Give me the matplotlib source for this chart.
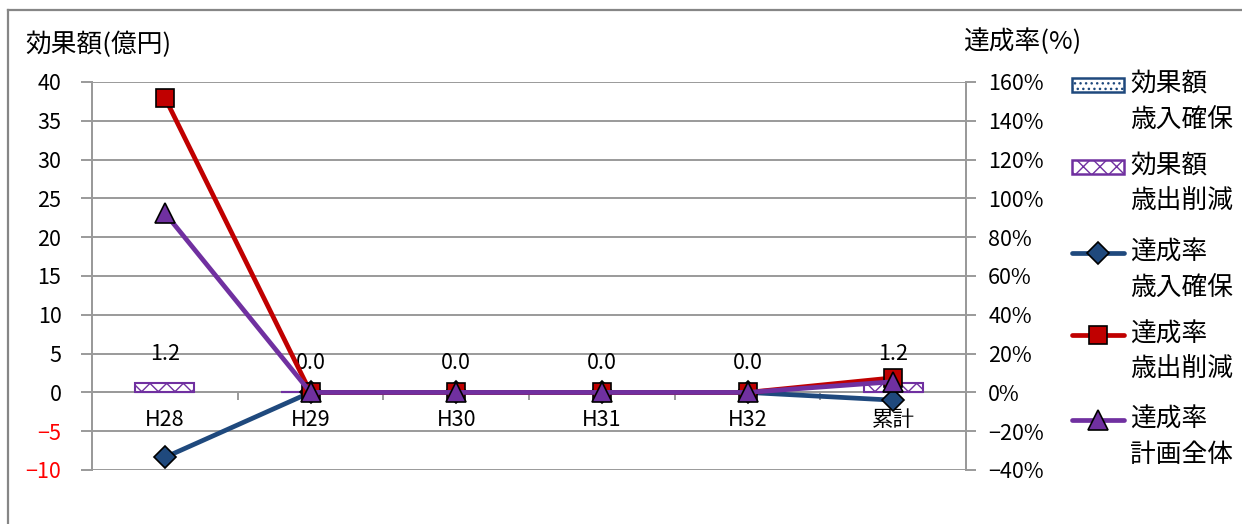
import matplotlib
matplotlib.use("Agg")
import matplotlib.pyplot as plt
from matplotlib.lines import Line2D
from matplotlib.patches import Rectangle
import numpy as np

plt.rcParams['font.family'] = ['Noto Sans CJK JP', 'DejaVu Sans']

categories = ['H28', 'H29', 'H30', 'H31', 'H32', '累計']
amount_revenue = [0.0, 0.0, 0.0, 0.0, 0.0, 0.0]      # 効果額 歳入確保 (億円)
amount_expend = [1.2, 0.0, 0.0, 0.0, 0.0, 1.2]       # 効果額 歳出削減 (億円)
rate_revenue = [-33.5, 0.0, 0.0, 0.0, 0.0, -4.0]     # 達成率 歳入確保 (%)
rate_expend = [152.0, 0.0, 0.0, 0.0, 0.0, 7.5]       # 達成率 歳出削減 (%)
rate_total = [92.5, 0.0, 0.0, 0.0, 0.0, 5.5]         # 達成率 計画全体 (%)

left_ticks = [40, 35, 30, 25, 20, 15, 10, 5, 0, -5, -10]
right_ticks = [160, 140, 120, 100, 80, 60, 40, 20, 0, -20, -40]

BLUE = '#1F497D'
RED = '#C00000'
PURPLE = '#7030A0'
GRID = '#9A9A9A'

W, H = 1242, 524
fig = plt.figure(figsize=(W / 100, H / 100), dpi=100)

def fx(px):
    return px / W

def fy(py):
    return 1 - py / H

ax = fig.add_axes([fx(92), fy(470), fx(966) - fx(92), fy(82) - fy(470)])
ax2 = ax.twinx()

x = np.arange(len(categories))
ax.set_xlim(-0.5, len(categories) - 0.5)
ax.set_ylim(-10, 40)
ax2.set_ylim(-40, 160)

# bars (stacked)
bw = 0.405
ax.bar(x, amount_revenue, width=bw, facecolor='white', edgecolor=BLUE,
       hatch='...', linewidth=1.5, zorder=3)
ax.bar(x, amount_expend, width=bw, bottom=amount_revenue, facecolor='white',
       edgecolor=PURPLE, hatch='xx', linewidth=1.5, zorder=3)
totals = np.array(amount_revenue) + np.array(amount_expend)
for xi, t in zip(x, totals):
    ax.annotate(f'{t:.1f}', (xi, t), xytext=(0, 21), textcoords='offset points',
                ha='center', va='center', fontsize=15.5, zorder=6)

# lines on secondary axis
ax2.plot(x, rate_revenue, color=BLUE, lw=3.4, marker='D', markersize=11,
         markerfacecolor=BLUE, markeredgecolor='black', markeredgewidth=1.2,
         solid_capstyle='round', zorder=4)
ax2.plot(x, rate_expend, color=RED, lw=3.4, marker='s', markersize=13.5,
         markerfacecolor=RED, markeredgecolor='black', markeredgewidth=1.2,
         solid_capstyle='round', zorder=5)
ax2.plot(x, rate_total, color=PURPLE, lw=3.4, marker='^', markersize=14,
         markerfacecolor=PURPLE, markeredgecolor='black', markeredgewidth=1.2,
         solid_capstyle='round', zorder=6)

# left axis
ax.set_yticks(left_ticks)
ax.set_yticklabels([str(v).replace('-', '−') for v in left_ticks], fontsize=15.5)
for lab, v in zip(ax.get_yticklabels(), left_ticks):
    lab.set_color('#FF0000' if v < 0 else 'black')
ax.yaxis.grid(True, color=GRID, lw=1.4)
ax.set_axisbelow(True)
ax.tick_params(axis='y', direction='out', length=8, width=1.4, color=GRID, pad=14)

# category axis on zero line
ax.spines['bottom'].set_position(('data', 0))
ax.spines['bottom'].set_color(GRID)
ax.spines['bottom'].set_linewidth(1.4)
ax.set_xticks(x)
ax.set_xticklabels(categories, fontsize=15.5)
ax.set_xticks(np.arange(-0.5, len(categories) + 0.5, 1), minor=True)
ax.tick_params(axis='x', which='major', length=0, pad=12)
ax.tick_params(axis='x', which='minor', direction='out', length=6, width=1.4, color=GRID)

for a in (ax, ax2):
    a.spines['top'].set_visible(False)
    a.spines['left'].set_color(GRID)
    a.spines['right'].set_color(GRID)
    a.spines['left'].set_linewidth(1.4)
    a.spines['right'].set_linewidth(1.4)
ax2.spines['bottom'].set_visible(False)

ax2.set_yticks(right_ticks)
ax2.set_yticklabels([(str(v) + '%').replace('-', '−') for v in right_ticks], fontsize=15.5)
ax2.tick_params(axis='y', direction='out', length=7, width=1.4, color=GRID, pad=9)

# axis titles
fig.text(fx(25), fy(45), '効果額(億円)', fontsize=18.5, ha='left', va='center')
fig.text(fx(963), fy(42), '達成率(%)', fontsize=18.5, ha='left', va='center')

# outer frame
fig.add_artist(Line2D([fx(8), fx(8)], [fy(10), fy(H + 5)], color='#868686', lw=1.6,
                      transform=fig.transFigure))
fig.add_artist(Line2D([fx(8), fx(W + 5)], [fy(10), fy(10)], color='#868686', lw=1.6,
                      transform=fig.transFigure))

# legend drawn manually
entries = [
    ('patch', BLUE, '...', None, '効果額', '歳入確保'),
    ('patch', PURPLE, 'xx', None, '効果額', '歳出削減'),
    ('line', BLUE, None, 'D', '達成率', '歳入確保'),
    ('line', RED, None, 's', '達成率', '歳出削減'),
    ('line', PURPLE, None, '^', '達成率', '計画全体'),
]
ys = [85, 167, 253, 335, 420]
msizes = {'D': 11, 's': 13.5, '^': 14}
for (kind, col, hatch, mk, l1, l2), yy in zip(entries, ys):
    if kind == 'patch':
        fig.add_artist(Rectangle((fx(1072), fy(yy + 7)), fx(1124) - fx(1072),
                                 fy(yy - 7) - fy(yy + 7), facecolor='white',
                                 edgecolor=col, hatch=hatch, lw=1.8,
                                 transform=fig.transFigure))
    else:
        fig.add_artist(Line2D([fx(1072), fx(1098), fx(1124)], [fy(yy)] * 3,
                              color=col, lw=3.4, solid_capstyle='round',
                              marker=mk, markevery=[1], markersize=msizes[mk],
                              markerfacecolor=col, markeredgecolor='black',
                              markeredgewidth=1.2, transform=fig.transFigure))
    fig.text(fx(1130), fy(yy), l1, fontsize=18.5, ha='left', va='center')
    fig.text(fx(1130), fy(yy + 35), l2, fontsize=18.5, ha='left', va='center')

fig.savefig('out.png', dpi=100)
